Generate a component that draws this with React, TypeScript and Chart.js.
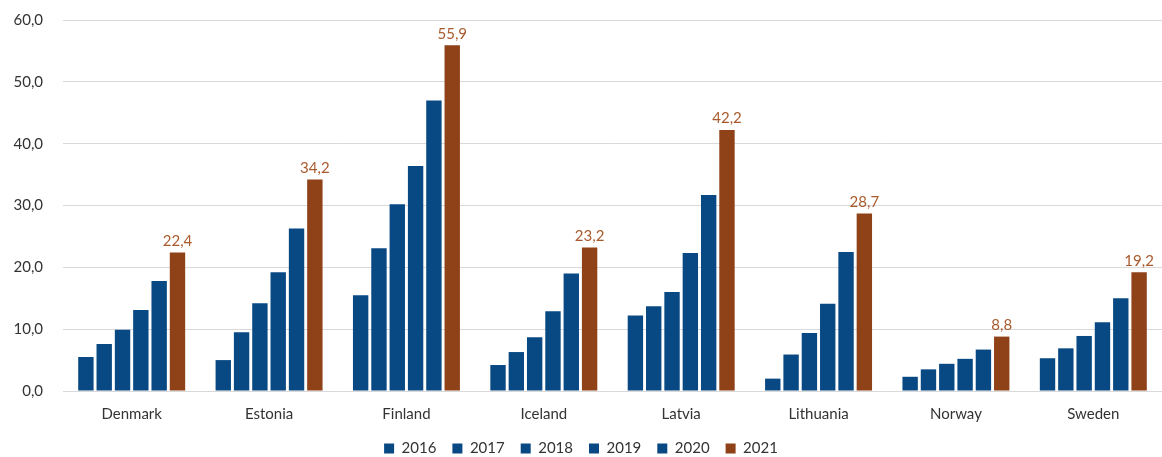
import React, { useEffect, useRef } from "react";
import { Chart, registerables } from "chart.js";

Chart.register(...registerables);

const categories = ["Denmark", "Estonia", "Finland", "Iceland", "Latvia", "Lithuania", "Norway", "Sweden"];
const years = ["2016", "2017", "2018", "2019", "2020", "2021"];
const values2016 = [5.5, 5.0, 15.5, 4.2, 12.2, 2.0, 2.3, 5.3];
const values2017 = [7.6, 9.5, 23.1, 6.3, 13.7, 5.9, 3.5, 6.9];
const values2018 = [9.9, 14.2, 30.2, 8.7, 16.0, 9.4, 4.4, 8.9];
const values2019 = [13.1, 19.2, 36.4, 12.9, 22.3, 14.1, 5.2, 11.1];
const values2020 = [17.8, 26.3, 47.0, 19.0, 31.7, 22.5, 6.7, 15.0];
const values2021 = [22.4, 34.2, 55.9, 23.2, 42.2, 28.7, 8.8, 19.2];
const yTicks = [0, 10, 20, 30, 40, 50, 60];

const BLUE = "#084984";
const BROWN = "#8F4118";
const LABEL_BROWN = "#A95A2C";
const FONT = "Lato, 'Open Sans', sans-serif";

const fmt = (v: number) => v.toFixed(1).replace(".", ",");

const labelPlugin = {
  id: "lastLabels",
  afterDatasetsDraw(chart: any) {
    const ctx = chart.ctx;
    const idx = chart.data.datasets.length - 1;
    const meta = chart.getDatasetMeta(idx);
    const data = chart.data.datasets[idx].data as number[];
    ctx.save();
    ctx.font = `15px ${FONT}`;
    ctx.fillStyle = LABEL_BROWN;
    ctx.textAlign = "center";
    ctx.textBaseline = "bottom";
    meta.data.forEach((bar: any, i: number) => {
      ctx.fillText(fmt(data[i]), bar.x, bar.y - 4);
    });
    ctx.restore();
  },
};

const legendFitPlugin = {
  id: "legendFit",
  beforeUpdate(chart: any) {
    const legend = chart.legend;
    if (legend && !legend.__patched) {
      const orig = legend.fit;
      legend.fit = function () {
        orig.call(this);
        this.height = 32;
      };
      legend.__patched = true;
    }
  },
};

export default function App() {
  const ref = useRef<HTMLCanvasElement | null>(null);
  useEffect(() => {
    if (!ref.current) return;
    const series = [values2016, values2017, values2018, values2019, values2020, values2021];
    const chart = new Chart(ref.current, {
      type: "bar",
      data: {
        labels: categories,
        datasets: series.map((d, i) => ({
          label: years[i],
          data: d,
          backgroundColor: i === 5 ? BROWN : BLUE,
          borderWidth: 0,
          barPercentage: 0.84,
          categoryPercentage: 0.8,
        })),
      },
      options: {
        animation: false,
        responsive: true,
        maintainAspectRatio: false,
        layout: { padding: { top: 20, left: 0, right: 0, bottom: 0 } },
        plugins: {
          legend: {
            position: "bottom",
            labels: {
              boxWidth: 10,
              boxHeight: 10,
              padding: 16,
              color: "#333333",
              font: { family: FONT, size: 15 },
            },
          },
          tooltip: { enabled: false },
        },
        scales: {
          x: {
            grid: { display: false, drawTicks: false },
            border: { display: false },
            afterFit: (scale: any) => {
              scale.height = 34;
              scale.paddingLeft = 0;
              scale.paddingRight = 0;
            },
            ticks: { color: "#333333", font: { family: FONT, size: 15 }, padding: 14 },
          },
          y: {
            min: 0,
            max: 60,
            afterBuildTicks: (scale: any) => {
              scale.ticks = yTicks.map((v) => ({ value: v }));
            },
            afterFit: (scale: any) => {
              scale.width = 63;
              scale.paddingTop = 0;
              scale.paddingBottom = 0;
            },
            grid: { color: "#d9d9d9", lineWidth: 1, drawTicks: false },
            border: { display: false },
            ticks: {
              color: "#333333",
              font: { family: FONT, size: 15 },
              padding: 20,
              callback: (v: any) => fmt(Number(v)),
            },
          },
        },
      },
      plugins: [labelPlugin, legendFitPlugin],
    });
    return () => chart.destroy();
  }, []);
  return (
    <div style={{ position: "absolute", left: 0, top: 0, width: 1162, height: 457 }}>
      <canvas ref={ref} />
    </div>
  );
}
